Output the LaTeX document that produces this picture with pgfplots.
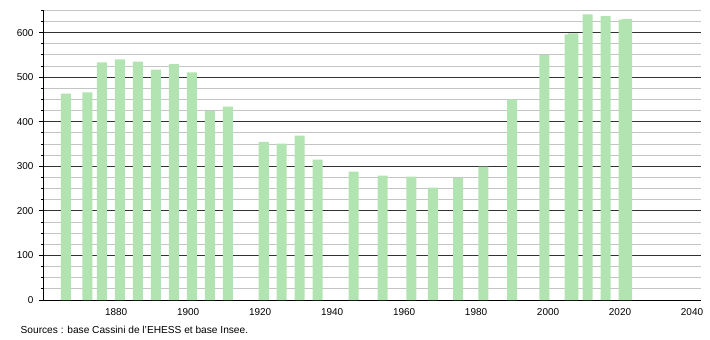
\documentclass[border=0pt]{standalone}
\usepackage{pgfplots}
\pgfplotsset{compat=1.18}
\usepackage{fontspec}
\setmainfont{Liberation Sans}
\definecolor{barg}{RGB}{178,228,178}
\definecolor{majg}{RGB}{50,50,50}
\definecolor{ming}{RGB}{196,196,196}
\begin{document}
\begin{tikzpicture}
\path (0,0) rectangle (710bp,340bp);
\begin{axis}[
  at={(43.5bp,40bp)}, anchor=origin,
  scale only axis, width=657.5bp, height=289.7bp,
  xmin=1859.8, xmax=2042.5, ymin=0, ymax=650,
  axis x line=bottom, axis y line=left,
  axis line style={-, black, line width=0.9bp},
  xtick={1880,1900,...,2040},
  xtick style={draw=none},
  ytick={0,100,...,600},
  minor ytick={25,50,...,650},
  ymajorgrids, yminorgrids,
  major grid style={majg, line width=0.9bp},
  minor grid style={ming, line width=0.9bp},
  tick align=outside,
  major tick length=4.5bp, minor tick length=2.5bp,
  ytick style={black, line width=0.8bp},
  /pgf/number format/1000 sep={},
  /pgf/number format/assume math mode=true,
  tick label style={font=\fontsize{10}{12}\selectfont},
  yticklabel style={xshift=-2bp},
  xticklabel style={yshift=-1bp},
  clip=false,
]
\addplot[ybar, bar width=2.78, bar shift=0pt, fill=barg, draw=none] coordinates {
(1866,463) (1872,466) (1876,533) (1881,540) (1886,535) (1891,517) (1896,529)
(1901,511) (1906,424) (1911,434) (1921,355) (1926,351) (1931,369) (1936,315)
(1946,288) (1954,279) (1962,277) (1968,252) (1975,274) (1982,299) (1990,450)
(1999,550) (2006,596) (2007,598) (2011,641) (2016,637) (2021,629) (2022,631)
};
\end{axis}
\node[anchor=west, inner sep=0pt, font=\fontsize{10.2}{12}\selectfont] at (20.5bp,10bp) {Sources : base Cassini de l'EHESS et base Insee.};
\end{tikzpicture}
\end{document}
